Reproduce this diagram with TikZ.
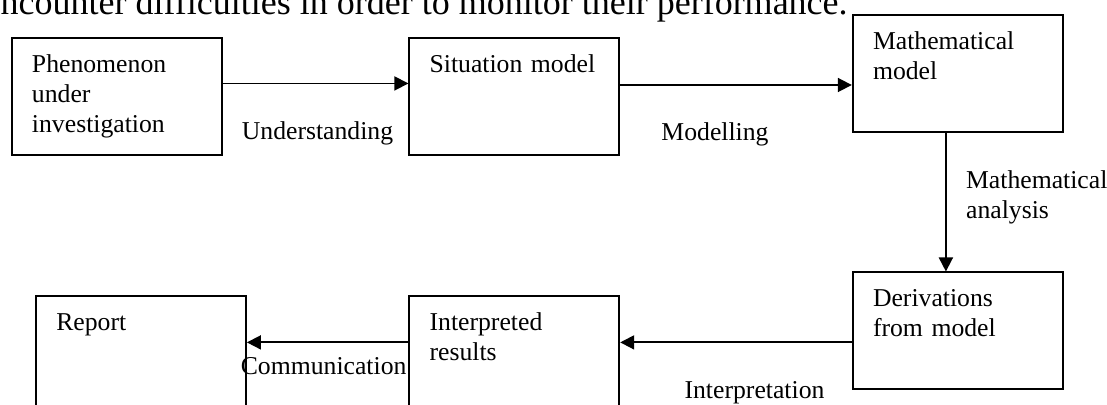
\documentclass[tikz,border=0pt]{standalone}
\usepackage{fontspec}
\setmainfont{Liberation Serif}
\usetikzlibrary{positioning, arrows.meta}

\begin{document}
\begin{tikzpicture}[
        stage/.style={rectangle, draw, line width=0.9pt, align=left, anchor=north west,
            inner xsep=10.15pt, inner ysep=0pt, text width=84.7pt,
            text height=17.15pt, text depth=41.2pt,
            font=\fontsize{12.85}{15}\selectfont},
        flow/.style={line width=0.9pt, -{Triangle[length=7pt, width=7pt]}},
        lbl/.style={anchor=base, inner sep=0pt, align=left, font=\fontsize{12.85}{15}\selectfont}
    ]
        \useasboundingbox (0,0) rectangle (553.5pt,-202.5pt);
        \clip (0,0) rectangle (553.5pt,-202.5pt);

        % Text line cut off above the figure
        \node[anchor=base east, inner sep=0pt, font=\fontsize{18}{20}\selectfont] (textline) at (424pt,-7.5pt) {encounter difficulties in order to monitor their performance.};

        %-----Stages-----

        % Phenomenon
        \node[stage] (phen) at (5.4pt,-18.7pt) {Phenomenon\\under\\investigation};

        % Situation model
        \node[stage, right=92.9pt of phen] (sit) {Situation model};

        % Mathematical model
        \node[stage, right=115.8pt of sit, yshift=11.65pt] (mathm) {Mathematical\\model};

        % Derivations
        \node[stage, below=69.45pt of mathm] (deriv) {Derivations\\from model};

        % Interpreted results
        \node[stage, left=115.8pt of deriv, yshift=-11.65pt] (interp) {Interpreted\\results};

        % Report
        \node[stage, left=80.75pt of interp] (report) {Report};

        %-----Steps-----

        % Phenomenon to Situation model
        \draw[flow] ([yshift=6.6pt]phen.east) -- ([yshift=6.6pt]sit.west) node[lbl, midway, xshift=1pt, yshift=-28pt] (understand) {Understanding};

        % Situation model to Mathematical model
        \draw[flow] ([yshift=5.825pt]sit.east) -- ([yshift=-5.825pt]mathm.west) node[lbl, midway, xshift=-10.5pt, yshift=-27.7pt] (modelling) {Modelling};

        % Mathematical model to Derivations
        \draw[flow] ([xshift=-5.9pt]mathm.south) -- ([xshift=-5.9pt]deriv.north) node[lbl, midway, anchor=base west, xshift=9.65pt, yshift=-8.2pt] (analysis) {Mathematical\\analysis};

        % Derivations to Interpreted results
        \draw[flow] ([yshift=-5.825pt]deriv.west) -- ([yshift=5.825pt]interp.east) node[lbl, midway, xshift=9.25pt, yshift=-28pt] (interpret) {Interpretation};

        % Interpreted results to Report
        \draw[flow] ([yshift=5.825pt]interp.west) -- ([yshift=5.825pt]report.east) node[lbl, midway, xshift=-2pt, yshift=-16.15pt] (communic) {Communication};

    \end{tikzpicture}
\end{document}
